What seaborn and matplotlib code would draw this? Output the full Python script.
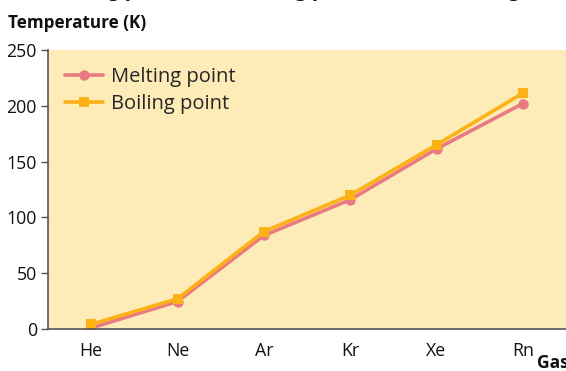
import matplotlib
matplotlib.use("Agg")
import matplotlib.pyplot as plt
import seaborn as sns
import pandas as pd

gases = ["He", "Ne", "Ar", "Kr", "Xe", "Rn"]
melting_point = [0.95, 24.6, 83.8, 115.8, 161.4, 202.0]
boiling_point = [4.2, 27.1, 87.3, 119.9, 165.1, 211.3]
series_names = ["Melting point", "Boiling point"]
y_ticks = [0, 50, 100, 150, 200, 250]

df = pd.DataFrame({
    "Gas": gases * 2,
    "Temperature": melting_point + boiling_point,
    "Series": [series_names[0]] * len(gases) + [series_names[1]] * len(gases),
})
df["x"] = df["Gas"].map({g: i for i, g in enumerate(gases)})

sns.set_style("white")
plt.rcParams["font.family"] = ["Open Sans", "DejaVu Sans"]

fig = plt.figure(figsize=(5.66, 3.71), dpi=100)
ax = fig.add_axes([48 / 566, 1 - 329 / 371, 1 - 48 / 566, (329 - 50) / 371])
ax.set_facecolor("#FDECB7")

palette = {series_names[0]: "#EA7A82", series_names[1]: "#FCB217"}
sns.lineplot(
    data=df, x="x", y="Temperature", hue="Series", style="Series",
    palette=palette, markers={series_names[0]: "o", series_names[1]: "s"},
    dashes=False, linewidth=2.6, markersize=7.5, markeredgewidth=0,
    ax=ax, legend=True,
)

ax.set_xlim(-0.5, len(gases) - 0.5)
ax.set_ylim(0, 250)
ax.set_yticks(y_ticks)
ax.set_yticklabels([str(t) for t in y_ticks])
ax.set_xticks(range(len(gases)))
ax.set_xticklabels(gases)
ax.set_xticks([i - 0.5 for i in range(len(gases) + 1)], minor=True)
ax.tick_params(axis="x", which="major", length=0, pad=9, labelsize=12.8, labelcolor="#111111")
ax.tick_params(axis="x", which="minor", length=5, width=1, color="#555555", direction="out")
ax.tick_params(axis="y", length=5, width=1, color="#555555", pad=3, labelsize=12.8,
               labelcolor="#111111", direction="out", left=True)
ax.set_xlabel("")
ax.set_ylabel("")

for s in ["top", "right"]:
    ax.spines[s].set_visible(False)
for s in ["left", "bottom"]:
    ax.spines[s].set_color("#555555")
    ax.spines[s].set_linewidth(1.2)

leg = ax.legend(loc="upper left", bbox_to_anchor=(0.0, 1.0), frameon=False,
                fontsize=14.5, handlelength=1.9, handletextpad=0.4, labelspacing=0.35,
                borderaxespad=0.45)

fig.text(8 / 566, 1 - 28 / 371, "Temperature (K)", fontsize=12.3, fontweight="bold",
         ha="left", va="baseline", color="#111111")
fig.text(537 / 566, 1 - 368 / 371, "Gas", fontsize=12.5, fontweight="bold",
         ha="left", va="baseline", color="#111111")
fig.text(0.535, 1 + 3.5 / 371, "Melting points and boiling points of the noble gases",
         fontsize=14.7, fontweight="bold", ha="center", va="baseline", color="#111111")

fig.savefig("out.png", dpi=100, facecolor="white")
